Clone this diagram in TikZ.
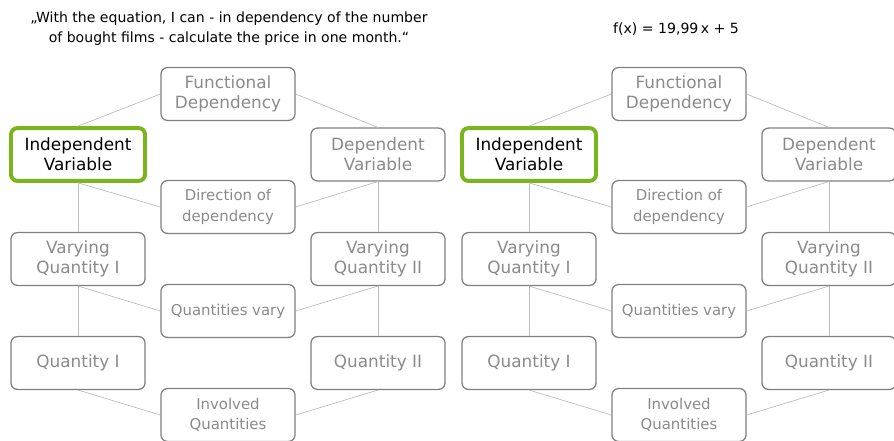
\documentclass[tikz,border=0pt]{standalone}
\usepackage{fontspec}
\setmainfont{DejaVu Sans}
\usepackage{xcolor}
\usepackage{tikz}
\definecolor{ink}     {HTML}{000000}
\definecolor{greytxt} {HTML}{8A8A8A}
\definecolor{greybox} {HTML}{7F7F7F}
\definecolor{linkc}   {HTML}{BDBDBD}
\definecolor{green}   {HTML}{7AB51D}
\tikzset{
  box/.style   = {rounded corners=1.6mm, draw=greybox, line width=0.9pt,
                  minimum width=33.5mm, minimum height=13.2mm, align=center,
                  text=greytxt, inner sep=0pt,
                  font=\fontsize{12}{14.3}\selectfont},
  sbox/.style  = {box, font=\fontsize{10.6}{14.6}\selectfont},
  hot/.style   = {box, draw=green, line width=2.8pt, text=ink},
  link/.style  = {draw=linkc, line width=0.5pt},
  head/.style  = {font=\fontsize{10}{14.2}\selectfont, text=ink, align=center},
}

\begin{document}
\begin{tikzpicture}[x=0.25mm, y=-0.25mm]
  \useasboundingbox (0,0) rectangle (894,441);

  \node[head] (quote) at (229,28.5)
    {„With the equation, I can - in dependency of the number\\
     of bought films - calculate the price in one month.“};
  \node[head, font=\fontsize{10}{12}\selectfont] (eq) at (676,29) {f(x) = 19,99\,x + 5};

  % the same map twice, once for each side
  \foreach \dx/\p in {0/l-,451/r-}{
    \begin{scope}[shift={(\dx,0)}, name prefix=\p]
      \node[box]  (fd)  at (228,94)    {Functional\\Dependency};
      \node[hot]  (iv)  at (78,154.5)  {Independent\\Variable};
      \node[box]  (dv)  at (378,154.5) {Dependent\\Variable};
      \node[sbox] (dd)  at (228,207)   {Direction of\\dependency};
      \node[box]  (vq1) at (78,259)    {Varying\\Quantity I};
      \node[box]  (vq2) at (378,259)   {Varying\\Quantity II};
      \node[sbox] (qv)  at (228,311)   {Quantities vary};
      \node[box]  (q1)  at (78,363)    {Quantity I};
      \node[box]  (q2)  at (378,363)   {Quantity II};
      \node[sbox] (iq)  at (228,415)   {Involved\\Quantities};

      \draw[link] (fd.west) -- (iv.north);
      \draw[link] (fd.east) -- (dv.north);
      \draw[link] (iv.south) -- (dd.west);
      \draw[link] (dv.south) -- (dd.east);
      \draw[link] (iv) -- (vq1);
      \draw[link] (dv) -- (vq2);
      \draw[link] (vq1.south) -- (qv.west);
      \draw[link] (vq2.south) -- (qv.east);
      \draw[link] (vq1) -- (q1);
      \draw[link] (vq2) -- (q2);
      \draw[link] (q1.south) -- (iq.west);
      \draw[link] (q2.south) -- (iq.east);
    \end{scope}
  }
\end{tikzpicture}
\end{document}
